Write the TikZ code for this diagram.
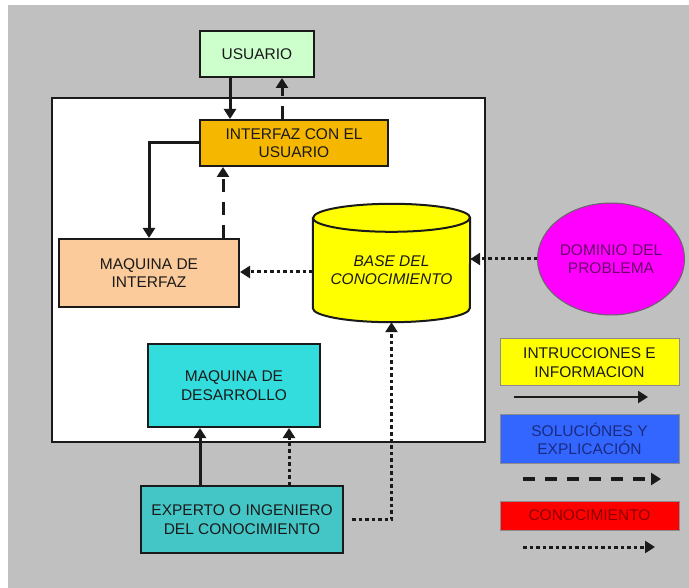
\documentclass[tikz,border=0pt]{standalone}
\usepackage{fontspec}
\setmainfont{Liberation Sans}
\usetikzlibrary{arrows.meta,shapes.geometric,backgrounds}
\definecolor{bggray}{HTML}{C0C0C0}
\definecolor{cUs}{HTML}{CCFFCC}
\definecolor{cIu}{HTML}{F5B700}
\definecolor{cMi}{HTML}{FCCB9C}
\definecolor{cKb}{HTML}{FFFF00}
\definecolor{cDom}{HTML}{FF00FF}
\definecolor{cDomText}{HTML}{6A006A}
\definecolor{cMd}{HTML}{33DDDD}
\definecolor{cEx}{HTML}{44C6C6}
\definecolor{cBlue}{HTML}{3366FF}
\definecolor{cBlueText}{HTML}{1A2A80}
\definecolor{cRedText}{HTML}{8A0000}
\definecolor{ink}{HTML}{1A1A1A}
\begin{document}
\begin{tikzpicture}[x=1pt,y=-1pt,
  txt/.style={align=center, font=\fontsize{15.5}{18.5}\selectfont, text=ink, inner sep=0pt},
  box/.style={txt, draw=ink, line width=2pt},
  legbox/.style={txt, draw=black!45, line width=1pt, minimum width=179pt},
  flow/.style={draw=ink, line width=3pt, -{Triangle[length=10pt,width=12pt]}},
  solidarrow/.style={flow},
  dasharrow/.style={flow, dash pattern=on 13pt off 10pt},
  dotarrow/.style={flow, dash pattern=on 3.5pt off 3pt}
]
\useasboundingbox (0,0) rectangle (689,588);
\begin{scope}[on background layer]
  \fill[white] (0,0) rectangle (689,588);
  \fill[bggray] (8,5) rectangle (689,588);
  \node[draw=ink, line width=2pt, fill=white, minimum width=433pt, minimum height=344pt, inner sep=0pt] (sys) at (268.5,270) {};
\end{scope}

% main nodes
\node[box, fill=cUs, minimum width=114pt, minimum height=46pt] (us) at (257,54) {USUARIO};
\node[box, fill=cIu, minimum width=188pt, minimum height=46pt] (iu) at (294,143) {INTERFAZ CON EL\\USUARIO};
\node[box, fill=cMi, minimum width=180pt, minimum height=68pt] (mi) at (149,273) {MAQUINA DE\\INTERFAZ};
\node[txt, font=\fontsize{15.5}{18.5}\selectfont\itshape, minimum width=157pt, minimum height=104pt] (kb) at (391.5,270) {BASE DEL\\CONOCIMIENTO};
\begin{scope}[on background layer]
  \draw[draw=ink, line width=2pt, fill=cKb]
    (kb.north west) -- ([yshift=14pt]kb.south west)
    arc[start angle=180, end angle=360, x radius=78.5pt, y radius=14pt]
    -- (kb.north east)
    arc[start angle=0, end angle=180, x radius=78.5pt, y radius=14pt] -- cycle;
  \draw[draw=ink, line width=2pt] (kb.north west)
    arc[start angle=180, end angle=360, x radius=78.5pt, y radius=14pt];
\end{scope}
\node[ellipse, draw=black!60, line width=1pt, fill=cDom, minimum width=147pt, minimum height=112pt, txt, text=cDomText] (dom) at (611,259) {DOMINIO DEL\\PROBLEMA};
\node[box, fill=cMd, minimum width=172pt, minimum height=83pt] (md) at (234,385.5) {MAQUINA DE\\DESARROLLO};
\node[box, fill=cEx, minimum width=202pt, minimum height=67pt] (ex) at (242,519.5) {EXPERTO O INGENIERO\\DEL CONOCIMIENTO};

% connectors
\coordinate (p1) at ([xshift=31pt]us.south west);
\draw[solidarrow] (p1) -- (p1 |- iu.north);
\coordinate (p2) at ([xshift=83pt]iu.north west);
\draw[dasharrow] (p2) -- (p2 |- us.south);
\draw[solidarrow] (iu.west) -| (mi.north);
\coordinate (p4) at ([xshift=24pt]iu.south west);
\draw[dasharrow] (p4 |- mi.north) -- (p4);
\draw[dotarrow] ([yshift=-2pt]kb.west) -- ([yshift=-2pt]kb.west -| mi.east);
\draw[dotarrow] (dom.west) -- (dom.west -| kb.east);
\coordinate (p7) at ([xshift=60pt]ex.north west);
\draw[solidarrow] (p7) -- (p7 |- md.south);
\coordinate (p8) at ([xshift=149pt]ex.north west);
\draw[dotarrow] (p8) -- (p8 |- md.south);
\draw[dotarrow] ([xshift=8pt]ex.east) -| (kb.south);

% legend
\node[legbox, fill=cKb, minimum height=47pt] (ly) at (589.5,362.5) {INTRUCCIONES E\\INFORMACION};
\node[legbox, fill=cBlue, text=cBlueText, minimum height=48pt] (lb) at (589.5,439) {SOLUCIÓNES Y\\EXPLICACIÓN};
\node[legbox, fill=red, text=cRedText, minimum height=29pt] (lr) at (589.5,515.5) {CONOCIMIENTO};
\coordinate (l1s) at (514,397);
\coordinate (l1e) at (648,397);
\draw[solidarrow, line width=2.4pt] (l1s) -- (l1e);
\coordinate (l2s) at (523,479);
\coordinate (l2e) at (661,479);
\draw[dasharrow, line width=3.6pt, dash pattern=on 12pt off 10pt] (l2s) -- (l2e);
\coordinate (l3s) at (523,547);
\coordinate (l3e) at (655,547);
\draw[dotarrow] (l3s) -- (l3e);
\end{tikzpicture}
\end{document}
